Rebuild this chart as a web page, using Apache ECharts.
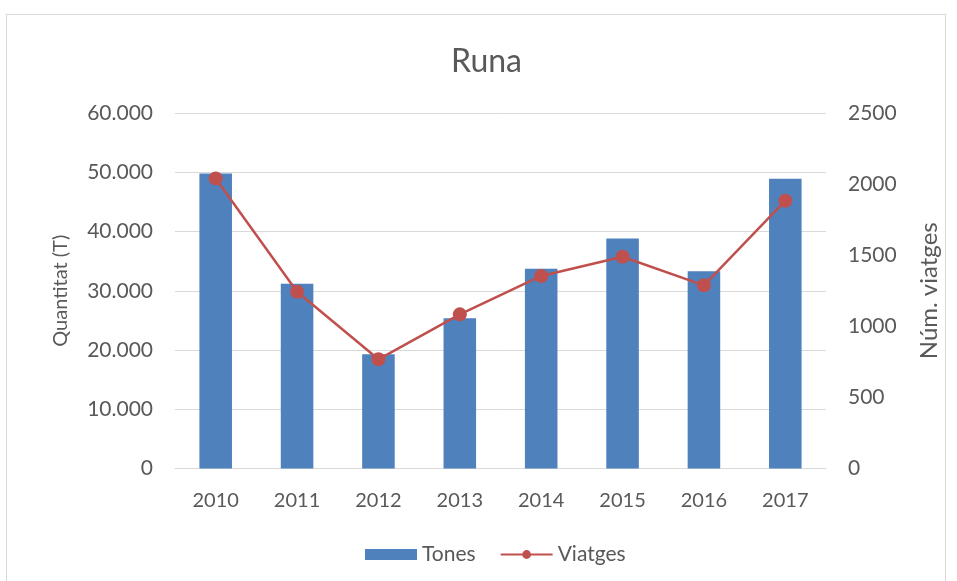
<!DOCTYPE html>
<html>
<head>
<meta charset="utf-8">
<script src="https://cdn.jsdelivr.net/npm/echarts@6/dist/echarts.min.js"></script>
<style>
  html, body { margin: 0; padding: 0; background: #fff; }
  #frame { position: absolute; left: 6px; top: 14px; width: 940px; height: 580px; border: 1px solid #d9d9d9; border-bottom: none; box-sizing: border-box; }
  #chart { position: absolute; left: 0; top: 0; width: 957px; height: 581px; }
</style>
</head>
<body>
<div id="frame"></div>
<div id="chart"></div>
<script>
const years = ['2010', '2011', '2012', '2013', '2014', '2015', '2016', '2017']
const tones = [49800, 31200, 19300, 25350, 33700, 38800, 33300, 48900]
const viatges = [2040, 1243, 768, 1084, 1354, 1489, 1288, 1883]

const fontFamily = 'Lato, "Open Sans", sans-serif'
const textColor = '#595959'

function thousands(v) {
  return String(v).replace(/\B(?=(\d{3})+(?!\d))/g, '.')
}

const chart = echarts.init(document.getElementById('chart'))
chart.setOption({
  animation: false,
  textStyle: { fontFamily: fontFamily },
  title: {
    text: 'Runa',
    left: 446,
    top: 41,
    textStyle: { fontSize: 32, fontWeight: 'normal', color: textColor, fontFamily: fontFamily }
  },
  legend: {
    top: 539,
    left: 360,
    itemGap: 24,
    itemWidth: 52,
    itemHeight: 11,
    textStyle: { fontSize: 21, color: textColor, fontFamily: fontFamily },
    data: [
      { name: 'Tones', icon: 'rect' },
      { name: 'Viatges' }
    ]
  },
  grid: { left: 175, right: 131, top: 113, bottom: 112.5 },
  xAxis: {
    type: 'category',
    data: years,
    axisLine: { lineStyle: { color: '#d9d9d9', width: 1 } },
    axisTick: { show: false },
    axisLabel: { fontSize: 20, color: textColor, margin: 22 }
  },
  yAxis: [{
    type: 'value',
    min: 0,
    max: 60000,
    interval: 10000,
    name: 'Quantitat (T)',
    nameLocation: 'middle',
    nameGap: 104,
    nameTextStyle: { fontSize: 20, color: textColor },
    axisLine: { show: false },
    axisTick: { show: false },
    axisLabel: { fontSize: 21, color: textColor, margin: 22, formatter: thousands },
    splitLine: { lineStyle: { color: '#d9d9d9', width: 1 } }
  }, {
    type: 'value',
    min: 0,
    max: 2500,
    interval: 500,
    name: 'Núm. viatges',
    nameLocation: 'middle',
    nameGap: 91,
    nameRotate: 90,
    nameTextStyle: { fontSize: 24, color: textColor },
    axisLine: { show: false },
    axisTick: { show: false },
    axisLabel: { fontSize: 21, color: textColor, margin: 22, formatter: v => String(v) },
    splitLine: { show: false }
  }],
  series: [{
    name: 'Tones',
    type: 'bar',
    data: tones,
    barWidth: '40%',
    itemStyle: { color: '#4f81bd' }
  }, {
    name: 'Viatges',
    type: 'line',
    yAxisIndex: 1,
    data: viatges,
    symbol: 'circle',
    symbolSize: 14,
    lineStyle: { color: '#c0504d', width: 2.5 },
    itemStyle: { color: '#c0504d' }
  }]
})
</script>
</body>
</html>
